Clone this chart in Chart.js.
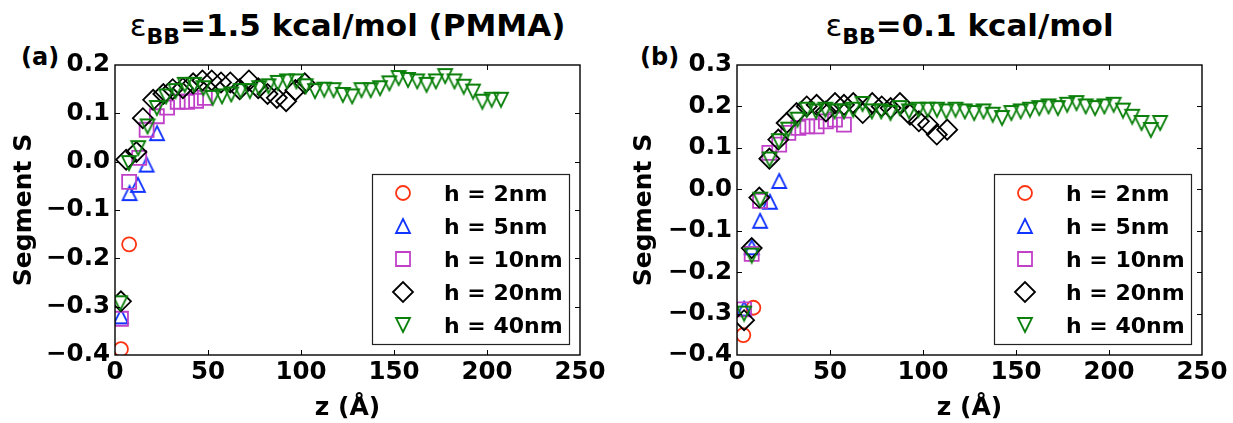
<!DOCTYPE html>
<html><head><meta charset="utf-8">
<script src="https://cdn.jsdelivr.net/npm/chart.js@4.4.0/dist/chart.umd.min.js"></script>
<style>
html,body{margin:0;padding:0;background:#fff;width:1233px;height:423px;overflow:hidden;font-family:"DejaVu Sans";}
canvas{position:absolute;top:0;}
#ca{left:0}
#cb{left:616px}
.title{position:absolute;top:10px;font-size:31px;font-weight:bold;line-height:31px;white-space:nowrap;transform:translateX(-50%);color:#000}
.eps{font-weight:normal}
.sub{font-size:22px;position:relative;top:8px}
.plabel{position:absolute;font-size:24px;font-weight:bold;line-height:24px;white-space:nowrap;color:#000}
</style></head>
<body>
<div class="title" style="left:347.5px"><span class="eps">ε</span><span class="sub">BB</span>=1.5 kcal/mol (PMMA)</div>
<div class="title" style="left:969.5px"><span class="eps">ε</span><span class="sub">BB</span>=0.1 kcal/mol</div>
<div class="plabel" style="left:21px;top:45px">(a)</div>
<div class="plabel" style="left:640px;top:45px">(b)</div>
<canvas id="ca" width="616" height="423"></canvas>
<canvas id="cb" width="617" height="423"></canvas>
<script>
// ---------- data ----------
const seriesLabels = ['h = 2nm', 'h = 5nm', 'h = 10nm', 'h = 20nm', 'h = 40nm'];
const xTickValues = [0, 50, 100, 150, 200, 250];
const yTickValuesA = [-0.4, -0.3, -0.2, -0.1, 0.0, 0.1, 0.2];
const yTickValuesB = [-0.4, -0.3, -0.2, -0.1, 0.0, 0.1, 0.2, 0.3];

// Panel (a): eps_BB = 1.5 kcal/mol (PMMA)
const a_z_2nm = [3.2, 7.6];
const a_s_2nm = [-0.388, -0.171];
const a_z_5nm = [3.2, 7.8, 12.3, 17, 22.6];
const a_s_5nm = [-0.32, -0.065, -0.048, -0.006, 0.059];
const a_z_10nm = [3.2, 7.6, 13, 17, 22.5, 28, 33.7, 38.8, 43.6, 48.3];
const a_s_10nm = [-0.325, -0.042, 0.008, 0.066, 0.094, 0.112, 0.124, 0.124, 0.126, 0.132];
const a_z_20nm = [3.2, 6, 11.5, 15, 20.5, 26, 31, 36.5, 42, 47, 52, 57, 62, 67, 72, 77, 82, 87, 92, 97, 102];
const a_s_20nm = [-0.289, 0.004, 0.02, 0.09, 0.128, 0.14, 0.15, 0.152, 0.162, 0.168, 0.168, 0.164, 0.164, 0.15, 0.168, 0.152, 0.14, 0.132, 0.125, 0.148, 0.162];
const a_z_40nm = [2.8, 7.5, 12.5, 17.5, 22.5, 27.5, 32.5, 37.5, 42.5, 47.5, 52.5, 57.5, 62.5, 67.5, 72.5, 77.5, 82.5, 87.5, 92.5, 97.5, 102.5, 107.5, 112.5, 117.5, 122.5, 127.5, 132.5, 137.5, 142.5, 147.5, 152.5, 157.5, 162.5, 167.5, 172.5, 177.5, 182.5, 187.5, 192.5, 197.5, 202.5, 207.5];
const a_s_40nm = [-0.293, -0.003, 0.028, 0.073, 0.111, 0.135, 0.146, 0.159, 0.159, 0.152, 0.132, 0.135, 0.139, 0.146, 0.146, 0.152, 0.156, 0.163, 0.166, 0.166, 0.156, 0.146, 0.149, 0.148, 0.138, 0.135, 0.148, 0.148, 0.152, 0.162, 0.173, 0.169, 0.166, 0.159, 0.166, 0.177, 0.166, 0.155, 0.145, 0.124, 0.128, 0.128];

// Panel (b): eps_BB = 0.1 kcal/mol
const b_z_2nm = [3.4, 8.8];
const b_s_2nm = [-0.352, -0.286];
const b_z_5nm = [3.8, 7.9, 12.4, 17.7, 22.7];
const b_s_5nm = [-0.288, -0.14, -0.076, -0.03, 0.02];
const b_z_10nm = [3.8, 7.9, 12.4, 17.4, 22.7, 27.6, 33, 37.8, 42.8, 47.8, 52.7, 57.5];
const b_s_10nm = [-0.29, -0.156, -0.028, 0.088, 0.108, 0.136, 0.148, 0.152, 0.152, 0.164, 0.168, 0.156];
const b_z_20nm = [3.8, 7.9, 12, 17.4, 22.2, 26.7, 32, 37.5, 42.8, 47.8, 52.7, 57.5, 62.5, 67.6, 72.7, 77.8, 82.6, 87.6, 93, 97.8, 102.8, 107.4, 113];
const b_s_20nm = [-0.316, -0.142, -0.02, 0.074, 0.12, 0.16, 0.184, 0.2, 0.204, 0.188, 0.208, 0.204, 0.208, 0.184, 0.208, 0.2, 0.196, 0.208, 0.18, 0.164, 0.156, 0.132, 0.144];
const b_z_40nm = [3.8, 7.9, 12.5, 17.5, 22.5, 27.5, 32.5, 37.5, 42.5, 47.5, 52.5, 57.5, 62.5, 67.5, 72.5, 77.5, 82.5, 87.5, 92.5, 97.5, 102.5, 107.5, 112.5, 117.5, 122.5, 127.5, 132.5, 137.5, 142.5, 147.5, 152.5, 157.5, 162.5, 167.5, 172.5, 177.5, 182.5, 187.5, 192.5, 197.5, 202.5, 207.5, 212.5, 217.5, 222.5, 227.5];
const b_s_40nm = [-0.30, -0.16, -0.025, 0.072, 0.116, 0.144, 0.168, 0.192, 0.188, 0.192, 0.188, 0.188, 0.192, 0.206, 0.188, 0.188, 0.184, 0.196, 0.188, 0.192, 0.192, 0.192, 0.188, 0.192, 0.188, 0.184, 0.188, 0.18, 0.172, 0.184, 0.188, 0.192, 0.196, 0.2, 0.196, 0.204, 0.208, 0.2, 0.196, 0.2, 0.204, 0.19, 0.175, 0.16, 0.143, 0.16];

// ---------- styles ----------
const colors = ['#ff3311', '#1133ff', '#c040c8', '#000000', '#0a800a'];
const FONT = '"DejaVu Sans", sans-serif';
const LW = 1.8;

function triCanvas(color, up) {
  const s = 18, c = document.createElement('canvas');
  c.width = s; c.height = s;
  const g = c.getContext('2d');
  g.strokeStyle = color; g.lineWidth = LW; g.lineJoin = 'miter';
  const h = 7, cx = 9, cy = 9;
  g.beginPath();
  if (up) { g.moveTo(cx, cy - h); g.lineTo(cx + h, cy + h); g.lineTo(cx - h, cy + h); }
  else { g.moveTo(cx, cy + h); g.lineTo(cx + h, cy - h); g.lineTo(cx - h, cy - h); }
  g.closePath(); g.stroke();
  return c;
}
const markerStyles = [
  {style: 'circle', radius: 7},
  {style: triCanvas(colors[1], true), radius: 9},
  {style: 'rect', radius: 9.9},
  {style: 'rectRot', radius: 10},
  {style: triCanvas(colors[4], false), radius: 9}
];

function makeDatasets(zs, ss) {
  return zs.map((z, k) => ({
    label: seriesLabels[k],
    data: z.map((v, i) => ({x: v, y: ss[k][i]})),
    showLine: false,
    pointStyle: markerStyles[k].style,
    pointRadius: markerStyles[k].radius,
    pointHoverRadius: markerStyles[k].radius,
    pointBorderColor: colors[k],
    pointBackgroundColor: 'rgba(0,0,0,0)',
    pointBorderWidth: LW,
    borderColor: colors[k],
    backgroundColor: 'rgba(0,0,0,0)',
    order: 5 - k,
    clip: 0
  }));
}

function drawMarker(ctx, k, x, y) {
  const m = markerStyles[k];
  ctx.save();
  ctx.strokeStyle = colors[k]; ctx.lineWidth = LW;
  if (typeof m.style !== 'string') {
    ctx.drawImage(m.style, Math.round(x - m.style.width / 2), Math.round(y - m.style.height / 2));
  } else {
    ctx.beginPath();
    if (m.style === 'circle') ctx.arc(x, y, m.radius, 0, Math.PI * 2);
    else if (m.style === 'rect') { const h = m.radius * Math.SQRT1_2; ctx.rect(x - h, y - h, 2 * h, 2 * h); }
    else { const r = m.radius; ctx.moveTo(x - r, y); ctx.lineTo(x, y - r); ctx.lineTo(x + r, y); ctx.lineTo(x, y + r); ctx.closePath(); }
    ctx.stroke();
  }
  ctx.restore();
}

const mplDecor = {
  id: 'mplDecor',
  afterDatasetsDraw(chart) {
    const {ctx, chartArea: a, scales: {x, y}} = chart;
    ctx.save();
    ctx.strokeStyle = '#000'; ctx.lineWidth = 1;
    ctx.beginPath();
    x.ticks.forEach(t => {
      const px = Math.round(x.getPixelForValue(t.value)) + 0.5;
      if (px < a.left + 2 || px > a.right - 2) return;
      ctx.moveTo(px, a.bottom); ctx.lineTo(px, a.bottom - 5);
      ctx.moveTo(px, a.top); ctx.lineTo(px, a.top + 5);
    });
    y.ticks.forEach(t => {
      const py = Math.round(y.getPixelForValue(t.value)) + 0.5;
      if (py < a.top + 2 || py > a.bottom - 2) return;
      ctx.moveTo(a.left, py); ctx.lineTo(a.left + 5, py);
      ctx.moveTo(a.right, py); ctx.lineTo(a.right - 5, py);
    });
    ctx.stroke();
    ctx.lineWidth = 1.4;
    ctx.strokeRect(a.left, a.top, a.right - a.left, a.bottom - a.top);

    // legend box
    const bw = 197, bh = 170;
    const bx = Math.round(a.right - 11 - bw), by = Math.round(a.bottom - 11 - bh);
    ctx.fillStyle = '#fff';
    ctx.fillRect(bx, by, bw, bh);
    ctx.strokeStyle = '#222'; ctx.lineWidth = 1.2;
    ctx.strokeRect(bx + 0.5, by + 0.5, bw, bh);
    ctx.font = 'bold 22px ' + FONT;
    ctx.fillStyle = '#000';
    ctx.textBaseline = 'alphabetic';
    ctx.textAlign = 'left';
    chart.data.datasets.forEach((ds, k) => {
      const cy = by + 19 + k * 33;
      drawMarker(ctx, k, bx + 31, cy);
      ctx.fillText(ds.label, bx + 72, cy + 8);
    });
    ctx.restore();
  }
};

function fmtY(v) {
  const r = Math.round(v * 10) / 10;
  return (r < 0 ? '\u2212' : '') + Math.abs(r).toFixed(1);
}

function makeChart(id, datasets, yTicks, yMin, yMax, yAxisWidth, yTitlePad, padRight) {
  return new Chart(document.getElementById(id), {
    type: 'scatter',
    data: {datasets},
    plugins: [mplDecor],
    options: {
      responsive: false,
      animation: false,
      devicePixelRatio: 1,
      events: [],
      layout: {padding: {top: 65, right: padRight, bottom: 0, left: 0}},
      plugins: {legend: {display: false}, tooltip: {enabled: false}, title: {display: false}},
      scales: {
        x: {
          type: 'linear', min: 0, max: 250,
          afterBuildTicks: s => { s.ticks = xTickValues.map(v => ({value: v})); },
          afterFit: s => { s.height = 68; },
          grid: {display: false, drawTicks: false},
          border: {display: false},
          ticks: {color: '#000', padding: 3, maxRotation: 0, autoSkip: false,
                  font: {family: FONT, size: 24.5, weight: 'bold'}, callback: v => String(v)},
          title: {display: true, text: 'z (Å)', color: '#000', padding: {top: 0, bottom: 0},
                  font: {family: FONT, size: 25, weight: 'bold'}}
        },
        y: {
          type: 'linear', min: yMin, max: yMax,
          afterBuildTicks: s => { s.ticks = yTicks.map(v => ({value: v})); },
          afterFit: s => { s.width = yAxisWidth; },
          grid: {display: false, drawTicks: false},
          border: {display: false},
          ticks: {color: '#000', padding: 5, autoSkip: false,
                  font: {family: FONT, size: 24.5, weight: 'bold'}, callback: fmtY},
          title: {display: true, text: 'Segment S', color: '#000', padding: {top: yTitlePad, bottom: 0},
                  font: {family: FONT, size: 25, weight: 'bold'}}
        }
      }
    }
  });
}

makeChart('ca',
  makeDatasets([a_z_2nm, a_z_5nm, a_z_10nm, a_z_20nm, a_z_40nm], [a_s_2nm, a_s_5nm, a_s_10nm, a_s_20nm, a_s_40nm]),
  yTickValuesA, -0.4, 0.2, 115, 9, 36);
makeChart('cb',
  makeDatasets([b_z_2nm, b_z_5nm, b_z_10nm, b_z_20nm, b_z_40nm], [b_s_2nm, b_s_5nm, b_s_10nm, b_s_20nm, b_s_40nm]),
  yTickValuesB, -0.4, 0.3, 121, 13, 31);
</script>
</body></html>
